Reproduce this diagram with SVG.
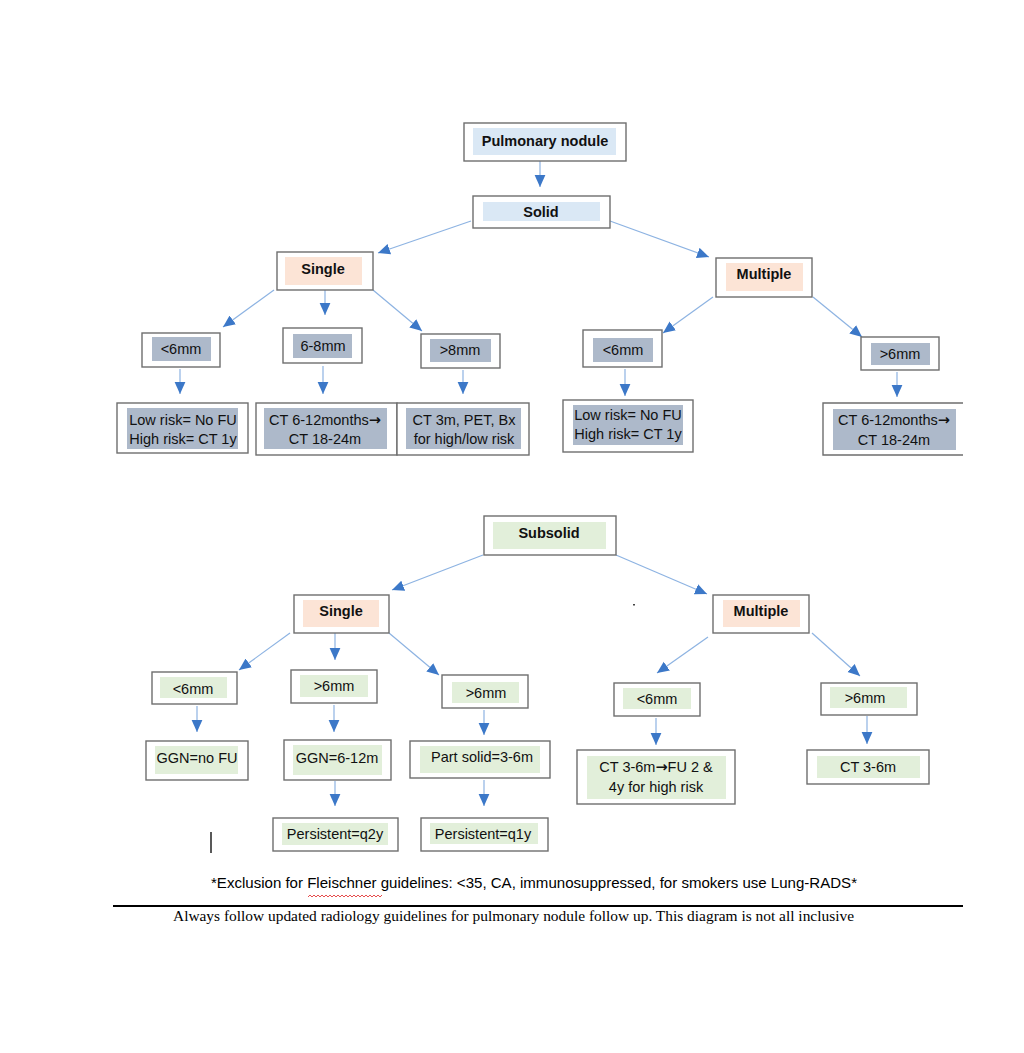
<svg xmlns="http://www.w3.org/2000/svg" width="1024" height="1053" viewBox="0 0 1024 1053">
<style>
.bx{fill:#fff;stroke:#6e6e6e;stroke-width:1.4}
.hb{fill:#dae8f5}
.hp{fill:#fce4d6}
.hg{fill:#adb9ca}
.hn{fill:#e2efda}
.t{font-family:"Liberation Sans",Arial,sans-serif;font-size:14.5px;fill:#111;text-anchor:middle}
.b{font-weight:bold}
.ar{font-family:"DejaVu Sans",sans-serif;font-weight:bold}
.c line{stroke:#8db3e2;stroke-width:1.2;marker-end:url(#ah)}
.foot{font-family:"Liberation Sans",Arial,sans-serif;font-size:15px;fill:#000}
.foot2{font-family:"Liberation Serif","Times New Roman",serif;font-size:15.5px;fill:#000}
</style>
<defs>
<marker id="ah" markerUnits="userSpaceOnUse" markerWidth="12" markerHeight="12" viewBox="0 0 10 10" refX="10" refY="5" orient="auto">
<path d="M0,0.5 L10,5 L0,9.5 Z" fill="#3c78c8"/>
</marker>
</defs>
<rect width="1024" height="1053" fill="#fff"/>

<g class="c" id="connectors">
<line x1="540" y1="161" x2="540" y2="187"/>
<line x1="471" y1="221" x2="378" y2="253"/>
<line x1="610" y1="221" x2="709" y2="257"/>
<line x1="274" y1="290" x2="223" y2="327"/>
<line x1="325" y1="290" x2="325" y2="315"/>
<line x1="373" y1="290" x2="422" y2="331"/>
<line x1="180" y1="369" x2="180" y2="394"/>
<line x1="323" y1="366" x2="323" y2="394"/>
<line x1="463" y1="370" x2="463" y2="394"/>
<line x1="713" y1="297" x2="663" y2="333"/>
<line x1="813" y1="297" x2="862" y2="337"/>
<line x1="625" y1="369" x2="625" y2="396"/>
<line x1="897" y1="372" x2="897" y2="397"/>
<line x1="483" y1="555" x2="392" y2="590"/>
<line x1="616" y1="555" x2="707" y2="594"/>
<line x1="290" y1="633" x2="239" y2="670"/>
<line x1="335" y1="633" x2="335" y2="660"/>
<line x1="389" y1="633" x2="439" y2="675"/>
<line x1="197" y1="706" x2="197" y2="732"/>
<line x1="334" y1="705" x2="334" y2="732"/>
<line x1="335" y1="781" x2="335" y2="806"/>
<line x1="484" y1="710" x2="484" y2="735"/>
<line x1="484" y1="780" x2="484" y2="806"/>
<line x1="708" y1="637" x2="657" y2="673"/>
<line x1="812" y1="633" x2="860" y2="676"/>
<line x1="656" y1="718" x2="656" y2="745"/>
<line x1="867" y1="716" x2="867" y2="744"/>
</g>

<g id="pulmonary-nodule"><rect class="bx" x="464" y="123" width="162" height="38"/><rect class="hb" x="473" y="128" width="143" height="27"/><text class="t b" x="545" y="146">Pulmonary nodule</text></g>
<g id="solid"><rect class="bx" x="473" y="196" width="137" height="32"/><rect class="hb" x="483" y="202" width="117" height="19"/><text class="t b" x="541" y="217">Solid</text></g>
<g id="solid-single"><rect class="bx" x="277" y="252" width="96" height="38"/><rect class="hp" x="285" y="257" width="77" height="28"/><text class="t b" x="323" y="274">Single</text></g>
<g id="solid-multiple"><rect class="bx" x="716" y="258" width="96" height="39"/><rect class="hp" x="726" y="263" width="77" height="28"/><text class="t b" x="764" y="279">Multiple</text></g>

<g id="ss-lt6"><rect class="bx" x="142" y="333" width="78" height="34"/><rect class="hg" x="152" y="337" width="59" height="24"/><text class="t" x="181" y="354">&lt;6mm</text></g>
<g id="ss-68"><rect class="bx" x="283" y="328" width="79" height="35"/><rect class="hg" x="293" y="334" width="59" height="24"/><text class="t" x="323" y="351">6-8mm</text></g>
<g id="ss-gt8"><rect class="bx" x="421" y="334" width="79" height="34"/><rect class="hg" x="430" y="339" width="61" height="23"/><text class="t" x="460" y="355">&gt;8mm</text></g>
<g id="ss-lt6-leaf"><rect class="bx" x="117" y="403" width="131" height="50"/><rect class="hg" x="127" y="408" width="111" height="41"/><text class="t" x="183" y="425">Low risk= No FU</text><text class="t" x="183" y="444">High risk= CT 1y</text></g>
<g id="ss-68-leaf"><rect class="bx" x="256" y="403" width="141" height="52"/><rect class="hg" x="264" y="408" width="123" height="41"/><text class="t" x="325" y="425">CT 6-12months<tspan class="ar">→</tspan></text><text class="t" x="325" y="444">CT 18-24m</text></g>
<g id="ss-gt8-leaf"><rect class="bx" x="397" y="403" width="132" height="52"/><rect class="hg" x="406" y="408" width="115" height="41"/><text class="t" x="464" y="425">CT 3m, PET, Bx</text><text class="t" x="464" y="444">for high/low risk</text></g>

<g id="sm-lt6"><rect class="bx" x="583" y="330" width="79" height="37"/><rect class="hg" x="593" y="338" width="60" height="24"/><text class="t" x="623" y="355">&lt;6mm</text></g>
<g id="sm-gt6"><rect class="bx" x="861" y="337" width="78" height="33"/><rect class="hg" x="871" y="343" width="59" height="22"/><text class="t" x="900" y="359">&gt;6mm</text></g>
<g id="sm-lt6-leaf"><rect class="bx" x="563" y="400" width="130" height="52"/><rect class="hg" x="573" y="405" width="110" height="40"/><text class="t" x="628" y="420">Low risk= No FU</text><text class="t" x="628" y="439">High risk= CT 1y</text></g>
<g id="sm-gt6-leaf"><path d="M963,403 H823 V455 H963" fill="#fff" stroke="#6e6e6e" stroke-width="1.4"/><rect class="hg" x="833" y="409" width="123" height="41"/><text class="t" x="894" y="425">CT 6-12months<tspan class="ar">→</tspan></text><text class="t" x="894" y="445">CT 18-24m</text></g>

<g id="subsolid"><rect class="bx" x="484" y="516" width="132" height="39"/><rect class="hn" x="493" y="522" width="113" height="27"/><text class="t b" x="549" y="538">Subsolid</text></g>
<g id="sub-single"><rect class="bx" x="294" y="595" width="95" height="38"/><rect class="hp" x="303" y="600" width="76" height="27"/><text class="t b" x="341" y="616">Single</text></g>
<g id="sub-multiple"><rect class="bx" x="713" y="595" width="96" height="38"/><rect class="hp" x="723" y="600" width="77" height="27"/><text class="t b" x="761" y="616">Multiple</text></g>
<rect x="633" y="604" width="2" height="1.5" fill="#444"/>

<g id="sub-lt6"><rect class="bx" x="152" y="672" width="85" height="32"/><rect class="hn" x="160" y="677" width="67" height="21"/><text class="t" x="193" y="694">&lt;6mm</text></g>
<g id="sub-gt6a"><rect class="bx" x="291" y="670" width="86" height="33"/><rect class="hn" x="300" y="675" width="68" height="22"/><text class="t" x="334" y="691">&gt;6mm</text></g>
<g id="sub-gt6b"><rect class="bx" x="442" y="675" width="86" height="33"/><rect class="hn" x="452" y="682" width="67" height="21"/><text class="t" x="486" y="698">&gt;6mm</text></g>
<g id="sub-ggn-nofu"><rect class="bx" x="146" y="741" width="102" height="39"/><rect class="hn" x="155" y="746" width="83" height="28"/><text class="t" x="197" y="763">GGN=no FU</text></g>
<g id="sub-ggn-612"><rect class="bx" x="284" y="740" width="107" height="40"/><rect class="hn" x="293" y="745" width="89" height="30"/><text class="t" x="337" y="763">GGN=6-12m</text></g>
<g id="sub-partsolid"><rect class="bx" x="410" y="741" width="140" height="37"/><rect class="hn" x="420" y="746" width="120" height="27"/><text class="t" x="482" y="762">Part solid=3-6m</text></g>
<g id="sub-q2y"><rect class="bx" x="273" y="818" width="125" height="33"/><rect class="hn" x="282" y="823" width="106" height="22"/><text class="t" x="335" y="839">Persistent=q2y</text></g>
<g id="sub-q1y"><rect class="bx" x="421" y="818" width="127" height="33"/><rect class="hn" x="430" y="823" width="108" height="21"/><text class="t" x="483" y="839">Persistent=q1y</text></g>

<g id="sub-m-lt6"><rect class="bx" x="614" y="683" width="86" height="33"/><rect class="hn" x="623" y="688" width="68" height="21"/><text class="t" x="657" y="704">&lt;6mm</text></g>
<g id="sub-m-gt6"><rect class="bx" x="821" y="683" width="96" height="32"/><rect class="hn" x="830" y="687" width="77" height="21"/><text class="t" x="865" y="703">&gt;6mm</text></g>
<g id="sub-m-lt6-leaf"><rect class="bx" x="577" y="750" width="158" height="54"/><rect class="hn" x="587" y="756" width="139" height="43"/><text class="t" x="656" y="772">CT 3-6m<tspan class="ar">→</tspan>FU 2 &amp;</text><text class="t" x="656" y="792">4y for high risk</text></g>
<g id="sub-m-gt6-leaf"><rect class="bx" x="807" y="750" width="122" height="34"/><rect class="hn" x="817" y="756" width="103" height="22"/><text class="t" x="868" y="772">CT 3-6m</text></g>

<line x1="211" y1="832" x2="211" y2="853" stroke="#222" stroke-width="1.5"/>

<text class="foot" x="211" y="888" textLength="646" lengthAdjust="spacingAndGlyphs">*Exclusion for Fleischner guidelines: &lt;35, CA, immunosuppressed, for smokers use Lung-RADS*</text>
<path d="M308,897 l2,-2 l2,2 l2,-2 l2,2 l2,-2 l2,2 l2,-2 l2,2 l2,-2 l2,2 l2,-2 l2,2 l2,-2 l2,2 l2,-2 l2,2 l2,-2 l2,2 l2,-2 l2,2 l2,-2 l2,2 l2,-2 l2,2 l2,-2 l2,2 l2,-2 l2,2 l2,-2 l2,2 l2,-2 l2,2 l2,-2 l2,2 l2,-2 l2,2 l2,-2" fill="none" stroke="#e02020" stroke-width="0.8"/>
<line x1="113" y1="906" x2="963" y2="906" stroke="#000" stroke-width="2"/>
<text class="foot2" x="173" y="921" textLength="681" lengthAdjust="spacingAndGlyphs">Always follow updated radiology guidelines for pulmonary nodule follow up. This diagram is not all inclusive</text>
</svg>
